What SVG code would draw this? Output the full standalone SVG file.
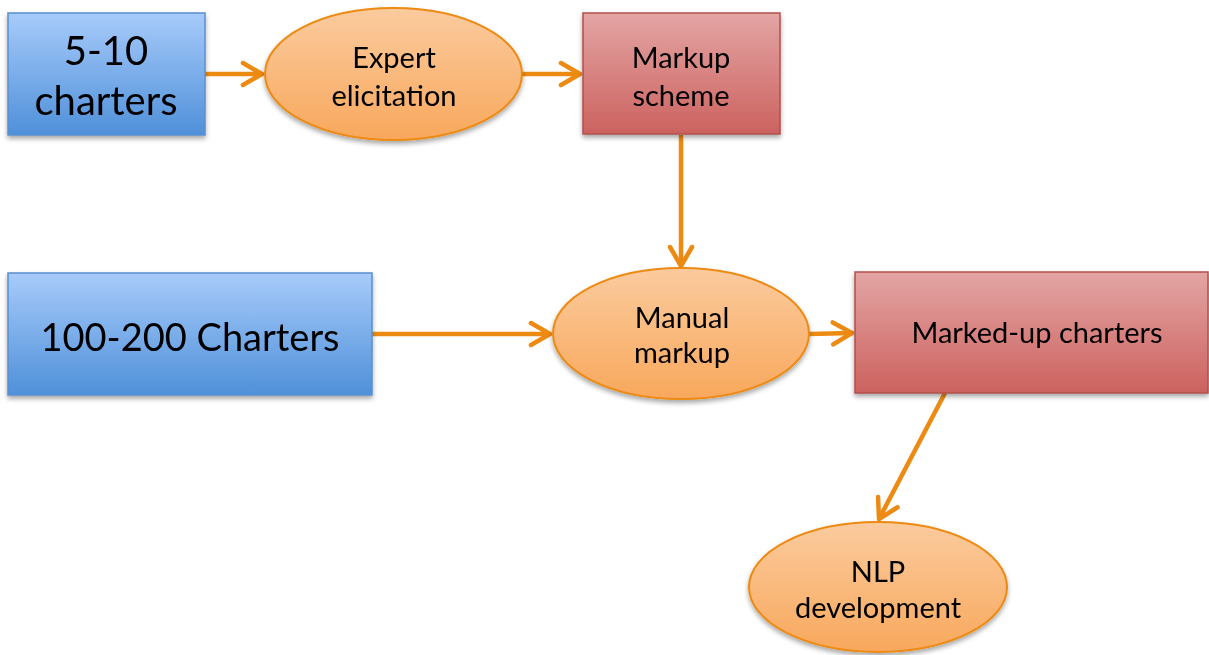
<svg xmlns="http://www.w3.org/2000/svg" width="1209" height="655" viewBox="0 0 1209 655">
<defs>
<linearGradient id="gBlue" x1="0" y1="0" x2="0" y2="1"><stop offset="0" stop-color="#a7cbfa"/><stop offset="1" stop-color="#4f90d9"/></linearGradient>
<linearGradient id="gRed" x1="0" y1="0" x2="0" y2="1"><stop offset="0" stop-color="#e3a5a4"/><stop offset="1" stop-color="#cc625f"/></linearGradient>
<linearGradient id="gOr" x1="0" y1="0" x2="0" y2="1"><stop offset="0" stop-color="#fbcb9e"/><stop offset="1" stop-color="#f8a85c"/></linearGradient>
<filter id="sh" x="-10%" y="-10%" width="125%" height="130%"><feGaussianBlur in="SourceAlpha" stdDeviation="2.5"/><feOffset dx="0" dy="3"/><feComponentTransfer><feFuncA type="linear" slope="0.35"/></feComponentTransfer><feMerge><feMergeNode/><feMergeNode in="SourceGraphic"/></feMerge></filter>
<marker id="arr" viewBox="0 0 26 28" refX="22" refY="14" markerWidth="26" markerHeight="28" markerUnits="userSpaceOnUse" orient="auto"><path d="M3,3 L22,14 L3,25" fill="none" stroke="#ed8a12" stroke-width="4.5" stroke-linecap="round" stroke-linejoin="round"/></marker>
</defs>
<style>
.blue{fill:url(#gBlue);stroke:#5a8fcf;stroke-width:1.5}
.red{fill:url(#gRed);stroke:#b0504d;stroke-width:1.5}
.ov{fill:url(#gOr);stroke:#ed8a12;stroke-width:2}
.t{font-family:Lato,"Open Sans",sans-serif;fill:#000;text-anchor:middle}
.s{font-size:29px}
.c{stroke:#ed8a12;stroke-width:4.5;fill:none;marker-end:url(#arr)}
</style>
<g id="connectors">
<path class="c" d="M205,74 L262,74"/>
<path class="c" d="M522,74 L580,74"/>
<path class="c" d="M681,135 L681,266"/>
<path class="c" d="M372,334 L550,334"/>
<path class="c" d="M809,334 L852,333"/>
<path class="c" d="M945,393 L879,519"/>
</g>
<g id="n1" filter="url(#sh)"><rect class="blue" x="8" y="13" width="197" height="122"/><text class="t" font-size="40" x="106" y="65">5-10</text><text class="t" font-size="40" x="106" y="115">charters</text></g>
<g id="n2" filter="url(#sh)"><ellipse class="ov" cx="393.5" cy="74" rx="128.5" ry="66"/><text class="t s" x="394" y="68">Expert</text><text class="t s" x="394" y="106">elicitation</text></g>
<g id="n3" filter="url(#sh)"><rect class="red" x="583" y="13" width="197" height="121"/><text class="t s" x="681" y="68">Markup</text><text class="t s" x="681" y="106">scheme</text></g>
<g id="n4" filter="url(#sh)"><rect class="blue" x="8" y="273" width="364" height="122"/><text class="t" font-size="38" x="190" y="351">100-200 Charters</text></g>
<g id="n5" filter="url(#sh)"><ellipse class="ov" cx="681" cy="333.5" rx="128" ry="65.5"/><text class="t s" x="682" y="328">Manual</text><text class="t s" x="682" y="363">markup</text></g>
<g id="n6" filter="url(#sh)"><rect class="red" x="855" y="272" width="353" height="121"/><text class="t s" x="1037" y="343">Marked-up charters</text></g>
<g id="n7" filter="url(#sh)"><ellipse class="ov" cx="878" cy="587" rx="129" ry="65"/><text class="t s" x="878" y="582">NLP</text><text class="t s" x="878" y="618">development</text></g>
</svg>
